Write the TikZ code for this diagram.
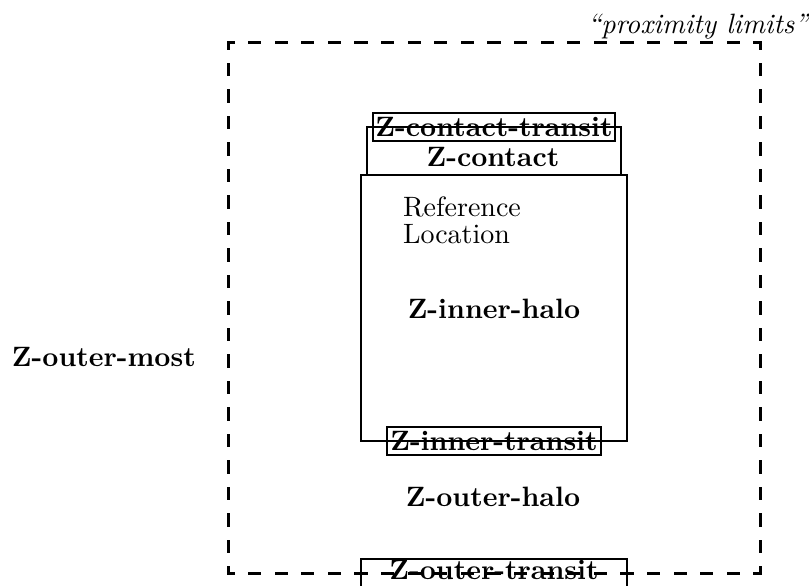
\documentclass[tikz,border=0pt]{standalone}
% labels are set at 10pt and enlarged, so they keep the 10pt design proportions
\newcommand\bigtext[1]{\scalebox{2.8}{#1}}
\begin{document}
\begin{tikzpicture}[x=1pt, y=-1pt,
  every node/.style={inner sep=0pt, outer sep=0pt},
  rmtext/.style={font=\fontsize{10}{9.64}\selectfont},
  bftext/.style={font=\fontsize{10}{9.64}\selectfont\bfseries},
  ittext/.style={font=\fontsize{10}{9.64}\selectfont\itshape},
  zonebox/.style={draw, line width=2pt, anchor=north west},
  hlimit/.style={line width=3pt, line cap=rect,
    dash pattern=on 10.3pt off 16.3pt, dash phase=5.15pt},
  vlimit/.style={line width=3pt, line cap=rect,
    dash pattern=on 10.25pt off 16.25pt, dash phase=5.125pt}]

\useasboundingbox (0,0) rectangle (809,586);

% outer dashed frame: the proximity limits
\node[anchor=north west, minimum width=532pt, minimum height=530pt] (limits) at (228,43) {};
\draw[hlimit] (limits.north west) -- (limits.north east);
\draw[hlimit] (limits.south west) -- (limits.south east);
\draw[vlimit] (limits.north west) -- (limits.south west);
\draw[vlimit] (limits.north east) -- (limits.south east);

% nested zones
\node[zonebox, minimum width=266pt, minimum height=266pt] (innerhalo) at (361,175) {};
\node[zonebox, minimum width=254pt, minimum height=48pt]  (contact) at (367,127) {};
\node[zonebox, minimum width=242pt, minimum height=28pt]  (contacttransit) at (373,113) {};
\node[zonebox, minimum width=214pt, minimum height=28pt]  (innertransit) at (387,427) {};
\node[zonebox, minimum width=266pt, minimum height=28pt]  (outertransit) at (361,559) {};

% labels
\node[ittext, anchor=base east] (limitslabel) at (808,34) {\bigtext{“proximity limits”}};
\node[bftext, anchor=base] (contacttransitlabel) at (494,136.5) {\bigtext{Z-contact-transit}};
\node[bftext, anchor=base] (contactlabel) at (493,166) {\bigtext{Z-contact}};
\node[rmtext, anchor=north west] (reflabel) at (403,196.5)
  {\bigtext{\begin{tabular}{@{}l@{}}Reference\\Location\end{tabular}}};
\node[bftext, anchor=base] (innerhalolabel) at (494,318) {\bigtext{Z-inner-halo}};
\node[bftext, anchor=base] (innertransitlabel) at (494,450.5) {\bigtext{Z-inner-transit}};
\node[bftext, anchor=base] (outerhalolabel) at (493,506) {\bigtext{Z-outer-halo}};
\node[bftext, anchor=base] (outertransitlabel) at (494,579) {\bigtext{Z-outer-transit}};
\node[bftext, anchor=base west] (outermostlabel) at (12,366) {\bigtext{Z-outer-most}};
\end{tikzpicture}
\end{document}
